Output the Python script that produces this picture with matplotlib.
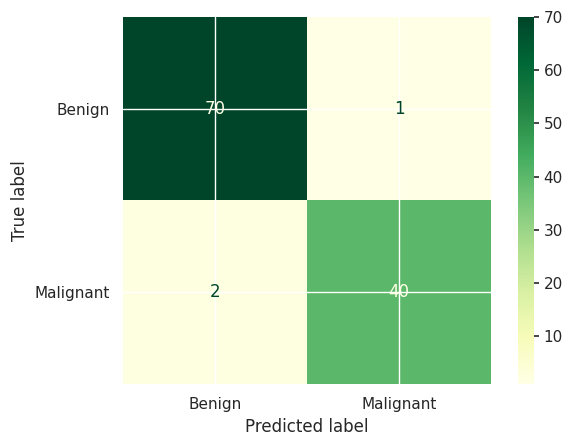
import matplotlib
matplotlib.use('Agg')

import numpy as np
import matplotlib.pyplot as plt
import seaborn as sns

# =========================
# DATA
# =========================
class_names = ["Benign", "Malignant"]
cm_values = [
    [70, 1],
    [2, 40],
]
cbar_ticks = [10, 20, 30, 40, 50, 60, 70]

sns.set_theme()
plt.rcParams['font.family'] = ['DejaVu Sans']

# =========================
# PLOT
# =========================
cm = np.array(cm_values)
cmap = plt.get_cmap("YlGn")

fig = plt.figure(figsize=(5.77, 4.47), dpi=100)
ax = fig.add_axes([123 / 577, 63 / 447, 368 / 577, 367 / 447])
cax = fig.add_axes([518 / 577, 63 / 447, 16 / 577, 367 / 447])

im = ax.imshow(cm, cmap=cmap, interpolation="nearest", aspect="auto",
               vmin=cm.min(), vmax=cm.max())

thresh = (cm.max() + cm.min()) / 2.0
for i in range(cm.shape[0]):
    for j in range(cm.shape[1]):
        color = cmap(0.0) if cm[i, j] > thresh else cmap(1.0)
        ax.text(j, i, str(cm[i, j]), ha="center", va="center",
                color=color, fontsize=12)

ax.set_xticks(range(len(class_names)))
ax.set_xticklabels(class_names)
ax.set_yticks(range(len(class_names)))
ax.set_yticklabels(class_names)
ax.set_xlabel("Predicted label")
ax.set_ylabel("True label")
ax.grid(True, color="white", linewidth=1)
for s in ax.spines.values():
    s.set_visible(False)

cb = fig.colorbar(im, cax=cax)
cb.set_ticks(cbar_ticks)
cb.outline.set_visible(False)
cax.tick_params(right=True, length=3.5, width=1.2, color="#262626")

plt.savefig("out.png", dpi=100)
